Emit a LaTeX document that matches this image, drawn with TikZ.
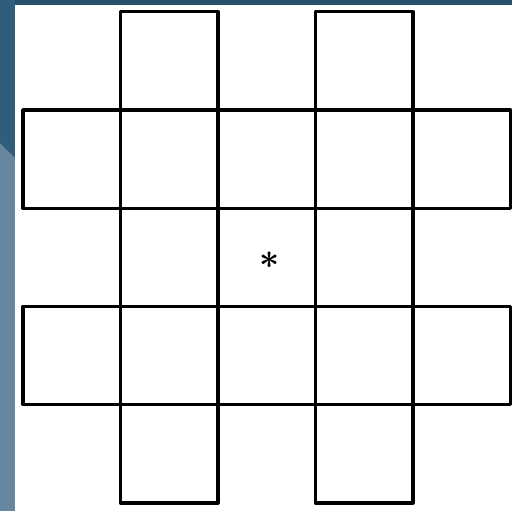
\documentclass[tikz,border=0pt]{standalone}
\usepackage{tikz}
\usetikzlibrary{positioning}
\definecolor{bgtop}{HTML}{26506B}
\definecolor{bgdark}{HTML}{2E5E7B}
\definecolor{bglight}{HTML}{66879D}
\tikzset{
  cell/.style={rectangle, draw=black, line width=0.85mm, line join=round,
               minimum width=24.375mm, minimum height=24.55mm, inner sep=0pt, outer sep=0pt},
  starsign/.style={inner sep=0pt, font=\Huge\boldmath}
}
\begin{document}
\begin{tikzpicture}[x=0.25mm, y=-0.25mm, node distance=0pt]
\useasboundingbox (0,0) rectangle (512,511);
% backdrop
\fill[bgtop] (0,0) rectangle (512,5);
\fill[bgdark] (0,0) rectangle (15,158);
\fill[bglight] (0,143) -- (15,158) -- (15,511) -- (0,511) -- cycle;
\fill[white] (15,5) rectangle (512,511);

% middle row
\node[cell] (c22) at (266.75,257.3) {};
\node[cell, left=of c22] (c21) {};
\node[cell, right=of c22] (c23) {};
% upper band
\node[cell, above=of c22] (c12) {};
\node[cell, left=of c12] (c11) {};
\node[cell, left=of c11] (c10) {};
\node[cell, right=of c12] (c13) {};
\node[cell, right=of c13] (c14) {};
\node[cell, above=of c11] (c01) {};
\node[cell, above=of c13] (c03) {};
% lower band
\node[cell, below=of c22] (c32) {};
\node[cell, left=of c32] (c31) {};
\node[cell, left=of c31] (c30) {};
\node[cell, right=of c32] (c33) {};
\node[cell, right=of c33] (c34) {};
\node[cell, below=of c31] (c41) {};
\node[cell, below=of c33] (c43) {};

\node[starsign] (star) at (270,260) {$\ast$};
\end{tikzpicture}
\end{document}
